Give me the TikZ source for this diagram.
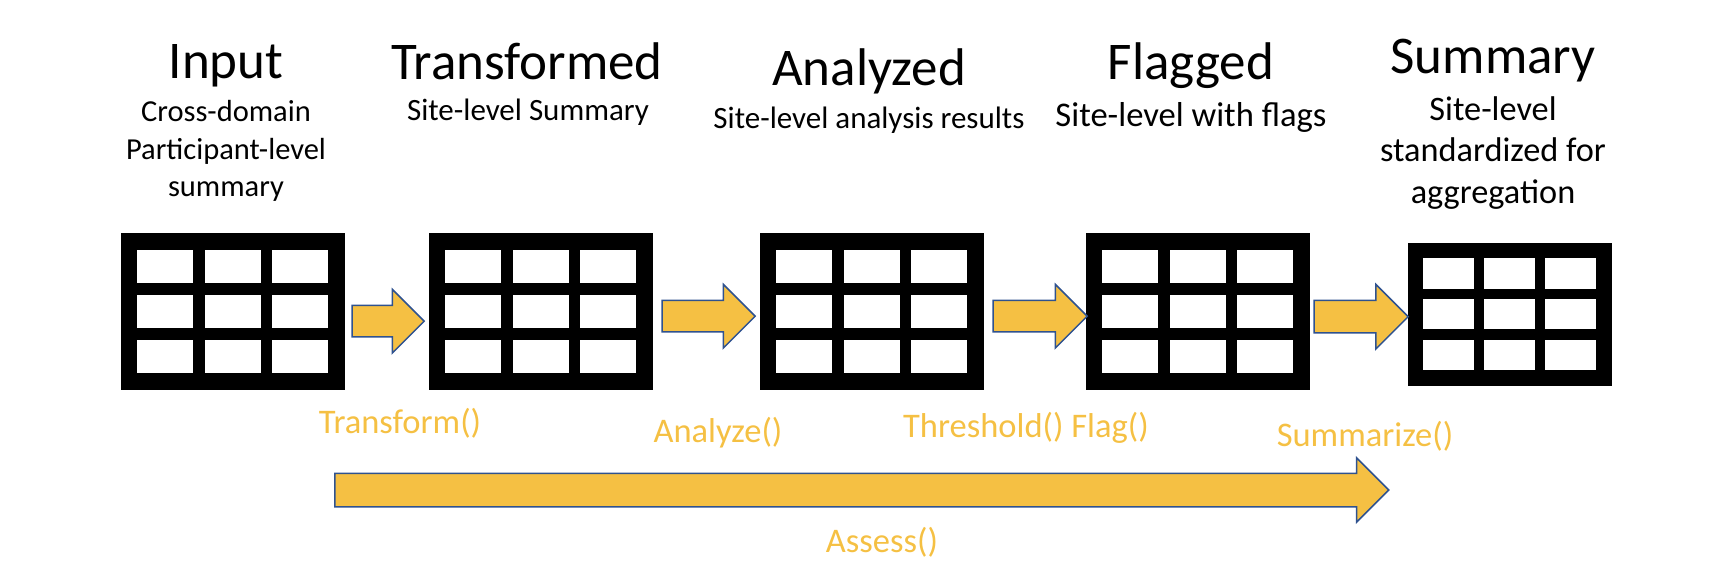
\documentclass[tikz,border=0pt]{standalone}
\usepackage{fontspec}
\setmainfont{Carlito}
\usetikzlibrary{shapes.arrows,calc}
\definecolor{gold}{RGB}{245,192,67}
\definecolor{arrowblue}{RGB}{47,82,143}
\tikzset{
  tablebox/.style={fill=black, inner sep=0pt, anchor=north west},
  blockarrow/.style={shape=single arrow, draw=arrowblue, fill=gold, line width=1.5pt, inner xsep=0pt, single arrow tip angle=90, anchor=tail},
  heading/.style={inner sep=0pt, anchor=base, font=\fontsize{53}{64}\selectfont},
  subhead/.style={inner sep=0pt, anchor=base, align=center},
  fnlabel/.style={inner sep=0pt, anchor=base, text=gold, font=\fontsize{34.5}{41}\selectfont}
}
\begin{document}
\begin{tikzpicture}[x=1pt, y=-1pt]
\useasboundingbox (0,0) rectangle (1724,576);

% the five tables
\foreach \n/\tx/\ty/\s in {1/121/233/1, 2/429/233/1, 3/760/233/1, 4/1086/233/1, 5/1408/243/.91}
{
    \pgfmathsetmacro\tw{224*\s}
    \pgfmathsetmacro\th{157*\s}
    \node[tablebox, minimum width=\tw pt, minimum height=\th pt] (t\n) at (\tx,\ty) {};
    \foreach \i in {0,1,2}
        \foreach \j in {0,1,2}
            \fill[white] ($(t\n.north west)+(\s*16+\s*67.5*\i, \s*17+\s*45*\j)$) rectangle +(\s*56, \s*33);
}

% headings
\foreach \n/\cx/\by/\ttl in {1/226/78/Input, 2/527/79/Transformed, 3/869/85/Analyzed, 4/1191/79/Flagged, 5/1493/73/Summary}
{
    \node[heading] (h\n) at (\cx,\by) {\ttl};
}

% base of a multi-line node is its last line
\node[subhead, font=\fontsize{30.5}{37.5}\selectfont] (s1) at (226,196.5) {Cross-domain\\Participant-level\\summary};
\node[subhead, font=\fontsize{31}{38}\selectfont] (s2) at (528,120) {Site-level Summary};
\node[subhead, font=\fontsize{31}{38}\selectfont] (s3) at (869,128) {Site-level analysis results};
\node[subhead, font=\fontsize{34.6}{42}\selectfont] (s4) at (1191,126) {Site-level with flags};
\node[subhead, font=\fontsize{34.3}{41.5}\selectfont] (s5) at (1493,203) {Site-level\\standardized for\\aggregation};

% step arrows between tables
\node[blockarrow, minimum height=72pt, minimum width=62pt, inner ysep=15pt, single arrow head extend=16pt] (a1) at ($(t1.east)+(6,9.5)$) {};
\node[blockarrow, minimum height=93pt, minimum width=62pt, inner ysep=15pt, single arrow head extend=16pt] (a2) at ($(t2.east)+(8,4.5)$) {};
\node[blockarrow, minimum height=94pt, minimum width=62pt, inner ysep=15pt, single arrow head extend=16pt] (a3) at ($(t3.east)+(8,4.5)$) {};
\node[blockarrow, minimum height=94pt, minimum width=63pt, inner ysep=15.5pt, single arrow head extend=16pt] (a4) at ($(t4.east)+(3,5)$) {};

% long arrow
\node[blockarrow, minimum height=1054pt, minimum width=63pt, inner ysep=16pt, single arrow head extend=15.5pt] (a5) at (334,490) {};

% function names
\node[fnlabel] (ltransform) at (400,433) {Transform()};
\node[fnlabel] (lanalyze) at (718,442) {Analyze()};
\node[fnlabel] (lflag) at (1026,437) {Threshold() Flag()};
\node[fnlabel] (lsummarize) at (1365,446) {Summarize()};
\node[fnlabel] (lassess) at (882,552) {Assess()};

\end{tikzpicture}
\end{document}
